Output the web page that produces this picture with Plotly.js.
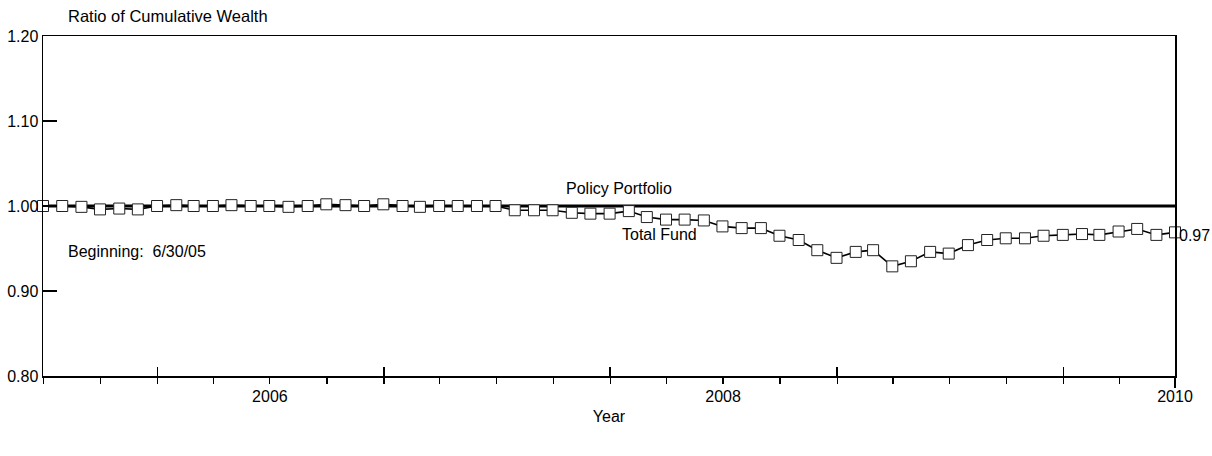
<!DOCTYPE html>
<html>
<head>
<meta charset="utf-8">
<script src="https://cdn.plot.ly/plotly-3.0.1.min.js"></script>
<style>
  html, body { margin: 0; padding: 0; background: #ffffff; }
  #chart { width: 1212px; height: 456px; }
</style>
</head>
<body>
<div id="chart"></div>
<script>
// Month-end dates, 6/30/05 to 6/30/10
const dates = [
  "2005-06-30","2005-07-31","2005-08-31","2005-09-30","2005-10-31","2005-11-30","2005-12-31",
  "2006-01-31","2006-02-28","2006-03-31","2006-04-30","2006-05-31","2006-06-30",
  "2006-07-31","2006-08-31","2006-09-30","2006-10-31","2006-11-30","2006-12-31",
  "2007-01-31","2007-02-28","2007-03-31","2007-04-30","2007-05-31","2007-06-30",
  "2007-07-31","2007-08-31","2007-09-30","2007-10-31","2007-11-30","2007-12-31",
  "2008-01-31","2008-02-29","2008-03-31","2008-04-30","2008-05-31","2008-06-30",
  "2008-07-31","2008-08-31","2008-09-30","2008-10-31","2008-11-30","2008-12-31",
  "2009-01-31","2009-02-28","2009-03-31","2009-04-30","2009-05-31","2009-06-30",
  "2009-07-31","2009-08-31","2009-09-30","2009-10-31","2009-11-30","2009-12-31",
  "2010-01-31","2010-02-28","2010-03-31","2010-04-30","2010-05-31","2010-06-30"
];

// Ratio of cumulative wealth: Total Fund vs Policy Portfolio
const totalFund = [
  1.000, 1.000, 0.999, 0.996, 0.997, 0.996, 1.000,
  1.001, 1.000, 1.000, 1.001, 1.000, 1.000,
  0.999, 1.000, 1.002, 1.001, 1.000, 1.002,
  1.000, 0.999, 1.000, 1.000, 1.000, 1.000,
  0.995, 0.995, 0.995, 0.992, 0.991, 0.991,
  0.994, 0.987, 0.984, 0.984, 0.983, 0.976,
  0.974, 0.974, 0.965, 0.960, 0.948, 0.939,
  0.946, 0.948, 0.929, 0.935, 0.946, 0.944,
  0.954, 0.960, 0.962, 0.962, 0.965, 0.966,
  0.967, 0.966, 0.970, 0.973, 0.966, 0.969
];
const policyDates = ["2005-06-30", "2010-06-30"];
const policyPortfolio = [1.00, 1.00];

// Axis ticks
const yTickVals = [0.80, 0.90, 1.00, 1.10, 1.20];
const majorTickVals = ["2006-01-01","2007-01-01","2008-01-01","2009-01-01","2010-01-01","2010-06-30"];
const yearLabelVals = ["2006-07-01","2008-07-01","2010-06-30"];
const yearLabelText = ["2006","2008","2010"];

const FONT = "Liberation Sans, Arial, Helvetica, sans-serif";
const xRange = ["2005-06-30", "2010-06-30"];

const traces = [
  {
    x: policyDates, y: policyPortfolio, type: "scatter", mode: "lines",
    line: { color: "#000000", width: 3 }, hoverinfo: "skip", showlegend: false
  },
  {
    x: dates, y: totalFund, type: "scatter", mode: "lines+markers",
    line: { color: "#000000", width: 1.6 },
    marker: { symbol: "square", size: 11, color: "#ffffff", line: { color: "#222222", width: 1 } },
    showlegend: false, cliponaxis: false
  },
  // invisible carriers so the overlay axes (inner ticks, year labels) get drawn
  {
    x: policyDates, y: policyPortfolio, xaxis: "x2", yaxis: "y", type: "scatter", mode: "lines",
    line: { width: 0 }, opacity: 0, hoverinfo: "skip", showlegend: false
  },
  {
    x: policyDates, y: policyPortfolio, xaxis: "x3", yaxis: "y", type: "scatter", mode: "lines",
    line: { width: 0 }, opacity: 0, hoverinfo: "skip", showlegend: false
  }
];

const layout = {
  width: 1212, height: 456,
  margin: { l: 43, r: 37, t: 36, b: 80 },
  paper_bgcolor: "#ffffff", plot_bgcolor: "#ffffff",
  font: { family: FONT, size: 16, color: "#000000" },
  showlegend: false,
  title: {
    text: "Ratio of Cumulative Wealth",
    xref: "container", yref: "container",
    x: 68 / 1212, xanchor: "left",
    y: 1 - 16 / 456, yanchor: "middle",
    font: { family: FONT, size: 16.5, color: "#000000" }
  },
  xaxis: {
    type: "date", range: xRange, anchor: "y",
    showgrid: false, zeroline: false,
    showline: true, linecolor: "#000000", linewidth: 1.5, mirror: true,
    tickmode: "array", tickvals: majorTickVals, ticktext: majorTickVals.map(() => ""),
    ticks: "outside", ticklen: 10, tickwidth: 1.5, tickcolor: "#000000",
    showticklabels: false,
    minor: { dtick: "M3", tick0: "2006-01-01", ticks: "outside", ticklen: 6, tickwidth: 1.2, tickcolor: "#000000", showgrid: false }
  },
  xaxis2: {
    type: "date", range: xRange, overlaying: "x", anchor: "y", side: "bottom",
    showgrid: false, zeroline: false, showline: false,
    tickmode: "array", tickvals: majorTickVals.slice(0, 5), ticktext: ["", "", "", "", ""],
    ticks: "inside", ticklen: 9, tickwidth: 1.5, tickcolor: "#000000",
    showticklabels: false
  },
  xaxis3: {
    type: "date", range: xRange, overlaying: "x", anchor: "y", side: "bottom",
    showgrid: false, zeroline: false, showline: false,
    tickmode: "array", tickvals: yearLabelVals, ticktext: yearLabelText,
    ticks: "", ticklabelstandoff: 9,
    tickfont: { family: FONT, size: 16, color: "#000000" },
    title: { text: "Year", standoff: 6, font: { family: FONT, size: 16, color: "#000000" } }
  },
  yaxis: {
    range: [0.80, 1.20], showgrid: false, zeroline: false,
    showline: true, linecolor: "#000000", linewidth: 1.5, mirror: true,
    tickmode: "array", tickvals: yTickVals, tickformat: ".2f",
    ticks: "inside", ticklen: 14, tickwidth: 1.5, tickcolor: "#000000",
    ticklabelstandoff: 0,
    tickfont: { family: FONT, size: 16, color: "#000000" }
  },
  annotations: [
    { xref: "x", yref: "y", x: "2008-01-15", y: 1.00, yshift: 18, text: "Policy Portfolio",
      showarrow: false, font: { family: FONT, size: 16, color: "#000000" } },
    { xref: "x", yref: "y", x: "2008-03-20", y: 0.985, yshift: -16, text: "Total Fund",
      showarrow: false, font: { family: FONT, size: 16, color: "#000000" } },
    { xref: "paper", yref: "y", x: 23 / 1132, xanchor: "left", y: 0.946, text: "Beginning:  6/30/05",
      showarrow: false, font: { family: FONT, size: 16, color: "#000000" } },
    { xref: "x", yref: "y", x: "2010-06-30", y: totalFund[totalFund.length - 1], xanchor: "left", xshift: 2, yshift: -3,
      text: "0.97", showarrow: false, font: { family: FONT, size: 16, color: "#000000" } }
  ]
};

Plotly.newPlot("chart", traces, layout, { displayModeBar: false, staticPlot: true });
</script>
</body>
</html>
